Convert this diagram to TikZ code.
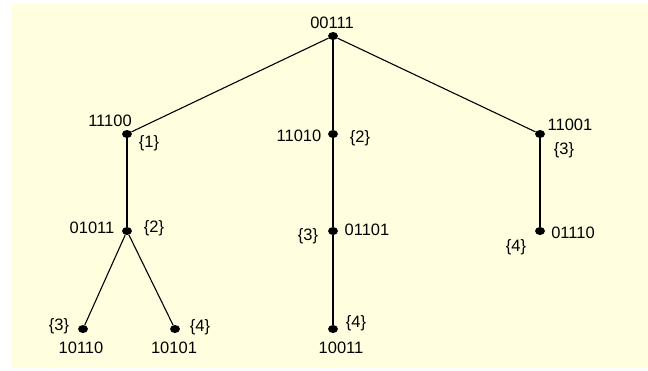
\documentclass[tikz,border=0pt]{standalone}
\usepackage{fontspec}
\setmainfont{Liberation Sans}
\usepackage{tikz}
\usetikzlibrary{shapes.geometric}
\definecolor{paleyellow}{HTML}{FFFFE0}

\begin{document}
\begin{tikzpicture}[x=1pt, y=-1pt,
  dot/.style={ellipse, fill=black, minimum width=10pt, minimum height=8pt, inner sep=0pt},
  word/.style={font=\fontsize{16.5}{18}\selectfont, inner sep=0pt},
  edge/.style={line width=1.1pt}
]
  % background
  \useasboundingbox (0,0) rectangle (648,370);
  \fill[paleyellow] (12,4) rectangle (648,368);

  % vertices
  \node[dot] (root)  at (333,36)  {};
  \node[dot] (v11100) at (127,134) {};
  \node[dot] (v11010) at (333,134) {};
  \node[dot] (v11001) at (540,134) {};
  \node[dot] (v01011) at (127,231) {};
  \node[dot] (v01101) at (333,231) {};
  \node[dot] (v01110) at (540,231) {};
  \node[dot] (v10110) at (83,329)  {};
  \node[dot] (v10101) at (175,329) {};
  \node[dot] (v10011) at (333,329) {};

  % edges
  \draw[edge] (root) -- (v11100);
  \draw[edge] (root) -- (v11010);
  \draw[edge] (root) -- (v11001);
  \draw[edge] (v11100) -- (v01011);
  \draw[edge] (v01011) -- (v10110);
  \draw[edge] (v01011) -- (v10101);
  \draw[edge] (v11010) -- (v01101);
  \draw[edge] (v01101) -- (v10011);
  \draw[edge] (v11001) -- (v01110);

  % words
  \node[word] (w00111) at (332,23)  {00111};
  \node[word] (w11100) at (110,121) {11100};
  \node[word] (w11010) at (299,136) {11010};
  \node[word] (w11001) at (570,125) {11001};
  \node[word] (w01011) at (92,228)  {01011};
  \node[word] (w01101) at (367,230) {01101};
  \node[word] (w01110) at (573,233) {01110};
  \node[word] (w10110) at (81,348)  {10110};
  \node[word] (w10101) at (174,348) {10101};
  \node[word] (w10011) at (341,348) {10011};

  % sets
  \node[word] (s11100) at (149,143) {\{1\}};
  \node[word] (s11010) at (360,138) {\{2\}};
  \node[word] (s11001) at (564,150) {\{3\}};
  \node[word] (s01011) at (154,228) {\{2\}};
  \node[word] (s01101) at (308,236) {\{3\}};
  \node[word] (s01110) at (516,247) {\{4\}};
  \node[word] (s10110) at (59,326)  {\{3\}};
  \node[word] (s10101) at (200,327) {\{4\}};
  \node[word] (s10011) at (356,323) {\{4\}};
\end{tikzpicture}
\end{document}
